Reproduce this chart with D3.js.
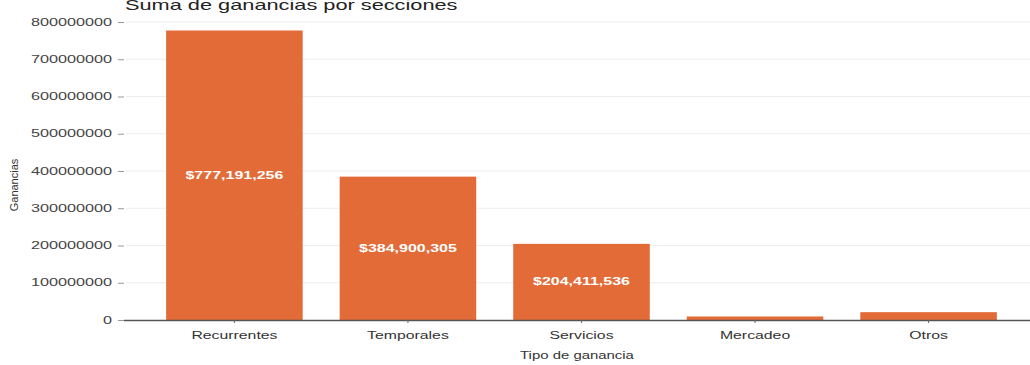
<!DOCTYPE html>
<html>
<head>
<meta charset="utf-8">
<script src="https://cdn.jsdelivr.net/npm/d3@7"></script>
<style>
  html, body { margin: 0; padding: 0; background: #fff; }
  svg { display: block; font-family: "Liberation Sans", Arial, sans-serif; }
</style>
</head>
<body>
<svg id="chart" width="1030" height="365"></svg>
<script>
// Ganancias por tipo
const categories = ["Recurrentes", "Temporales", "Servicios", "Mercadeo", "Otros"];
const values = [777191256, 384900305, 204411536, 9500000, 21000000];
const valueLabels = ["$777,191,256", "$384,900,305", "$204,411,536", null, null];
const yTicks = [0, 100000000, 200000000, 300000000, 400000000, 500000000, 600000000, 700000000, 800000000];

const svg = d3.select("#chart");
const barColor = "#E36B38";

// widen glyphs horizontally by a factor, keeping the anchor
function stretch(sel, factor) {
  sel.each(function () {
    const w = this.getComputedTextLength();
    d3.select(this).attr("textLength", w * factor).attr("lengthAdjust", "spacingAndGlyphs");
  });
}

const y = d3.scaleLinear().domain([0, 800000000]).range([320, 22]);
const x = d3.scaleBand().domain(categories).range([121, 1042]).paddingInner(0.213).paddingOuter(0.26);

// grid lines
svg.append("g")
  .selectAll("line")
  .data(yTicks.filter(d => d > 0))
  .join("line")
  .attr("x1", 126).attr("x2", 1030)
  .attr("y1", d => y(d)).attr("y2", d => y(d))
  .attr("stroke", "#ededed").attr("stroke-width", 1);

// y axis
const yAxis = svg.append("g")
  .attr("transform", "translate(124,0)")
  .call(d3.axisLeft(y).tickValues(yTicks).tickFormat(d3.format("d")).tickSize(6).tickPadding(6));
yAxis.select(".domain").remove();
yAxis.selectAll(".tick line").attr("stroke", "#999");
yAxis.selectAll(".tick text").attr("fill", "#444").style("font-size", "10px").call(stretch, 1.62);

// bars
svg.append("g")
  .selectAll("rect")
  .data(categories)
  .join("rect")
  .attr("x", d => x(d))
  .attr("width", x.bandwidth())
  .attr("y", (d, i) => y(values[i]))
  .attr("height", (d, i) => y(0) - y(values[i]))
  .attr("fill", barColor);

// x axis
const xAxis = svg.append("g")
  .attr("transform", "translate(0,320)")
  .call(d3.axisBottom(x).tickSize(3).tickPadding(9));
xAxis.select(".domain").attr("d", "M124,0.5H1030").attr("stroke", "#555").attr("stroke-width", 1.3);
xAxis.selectAll(".tick line").attr("stroke", "#666");
xAxis.selectAll(".tick text").attr("fill", "#333").style("font-size", "10px").call(stretch, 1.58);

// value labels
svg.append("g")
  .selectAll("text")
  .data(categories.map((c, i) => ({ c, v: values[i], label: valueLabels[i] })).filter(d => d.label))
  .join("text")
  .attr("x", d => x(d.c) + x.bandwidth() / 2)
  .attr("y", d => (y(d.v) + y(0)) / 2)
  .attr("dy", "0.35em")
  .attr("text-anchor", "middle")
  .attr("fill", "#fff")
  .style("font-size", "10px")
  .style("font-weight", "bold")
  .text(d => d.label)
  .call(stretch, 1.6);

// title
svg.append("text")
  .attr("x", 125).attr("y", 10)
  .attr("fill", "#222")
  .style("font-size", "15px")
  .text("Suma de ganancias por secciones")
  .call(stretch, 1.45);

// axis titles
svg.append("text")
  .attr("x", 577).attr("y", 359)
  .attr("text-anchor", "middle")
  .attr("fill", "#333")
  .style("font-size", "10.5px")
  .text("Tipo de ganancia")
  .call(stretch, 1.42);

svg.append("text")
  .attr("transform", "translate(18,185) rotate(-90)")
  .attr("text-anchor", "middle")
  .attr("fill", "#333")
  .style("font-size", "10px")
  .text("Ganancias")
  .call(stretch, 1.1);
</script>
</body>
</html>
